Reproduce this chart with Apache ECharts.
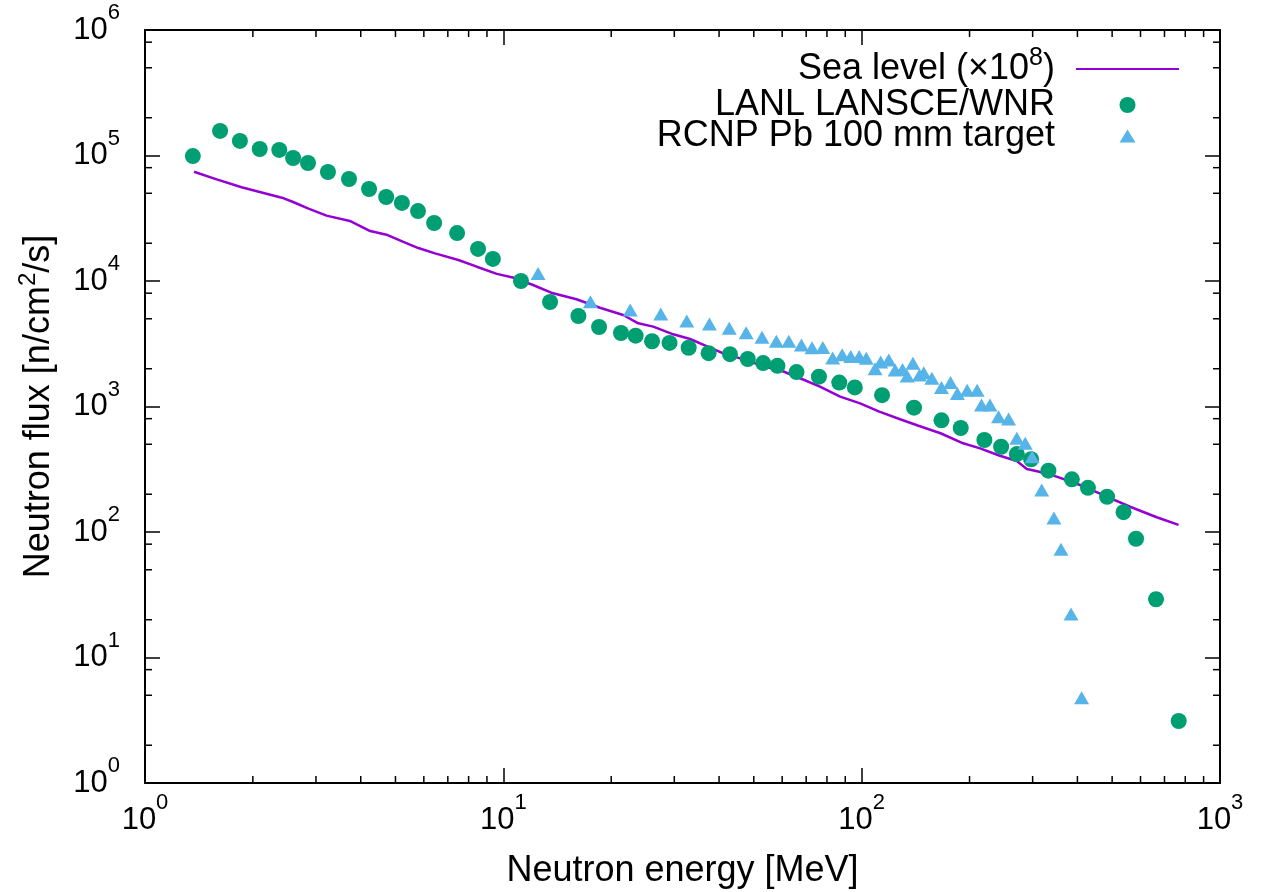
<!DOCTYPE html>
<html>
<head>
<meta charset="utf-8">
<script src="https://cdn.jsdelivr.net/npm/echarts@6/dist/echarts.min.js"></script>
<style>
  html, body { margin: 0; padding: 0; background: #fff; }
  #chart_flux { width: 1270px; height: 892px; }
</style>
</head>
<body>
<div id="chart_flux"></div>
<script>
// 数据
var seaEnergy = [1.37, 1.585, 1.86, 2.09, 2.41, 2.59, 2.86, 3.21, 3.73, 4.25, 4.72, 5.26, 5.79, 6.45, 7.49, 8.43, 9.59, 10.7, 12.1, 13.6, 16.0, 18.6, 21.6, 23.8, 26.2, 29.8, 33.2, 36.9, 41.1, 45.8, 53.2, 60.5, 67.3, 76.5, 87.1, 99.0, 112, 128, 144, 166, 192, 214, 243, 271, 289, 311, 350, 407, 483, 561, 666, 766];
var seaFlux = [74300, 64600, 55800, 51200, 46100, 42600, 37700, 33200, 30100, 25000, 23400, 20500, 18300, 16600, 14700, 13000, 11400, 10600, 9290, 8070, 7150, 6120, 5360, 4600, 4330, 3760, 3450, 3030, 2650, 2420, 2100, 1900, 1680, 1440, 1200, 1060, 910, 791, 703, 612, 509, 464, 405, 368, 318, 303, 276, 237, 191, 159, 131, 114];

var lanlEnergy = [1.36, 1.62, 1.84, 2.09, 2.37, 2.59, 2.85, 3.24, 3.71, 4.22, 4.71, 5.21, 5.78, 6.41, 7.43, 8.50, 9.35, 11.2, 13.5, 16.2, 18.5, 21.3, 23.4, 26.0, 29.1, 32.9, 37.4, 42.9, 48.1, 53.1, 58.2, 65.8, 76.0, 86.6, 95.7, 114, 140, 167, 189, 220, 245, 271, 297, 332, 386, 428, 484, 538, 583, 663, 767];
var lanlFlux = [99000, 157000, 130600, 112700, 110700, 95500, 87100, 73900, 65000, 54100, 46700, 41900, 36100, 29000, 24100, 18000, 15000, 10000, 6800, 5260, 4300, 3850, 3670, 3310, 3210, 2940, 2660, 2610, 2390, 2220, 2110, 1880, 1730, 1550, 1420, 1230, 979, 776, 674, 541, 478, 418, 380, 308, 263, 225, 191, 144, 88.4, 29.1, 3.12];

var rcnpEnergy = [12.5, 17.5, 22.6, 27.5, 32.5, 37.6, 42.7, 47.6, 52.7, 57.8, 62.6, 67.9, 72.7, 77.9, 83.0, 88.2, 93.2, 98.4, 103, 109, 113, 119, 124, 130, 134, 139, 145, 149, 157, 167, 177, 185, 197, 210, 216, 228, 241, 257, 271, 286, 299, 318, 344, 360, 384, 411];
var rcnpFlux = [11500, 6840, 5870, 5460, 4800, 4540, 4200, 3870, 3560, 3310, 3310, 3090, 2940, 2950, 2430, 2590, 2500, 2500, 2420, 2000, 2260, 2350, 1950, 1970, 1750, 2210, 1780, 1860, 1680, 1420, 1550, 1270, 1350, 1350, 1030, 1030, 830, 795, 558, 509, 398, 216, 129, 72.8, 22.2, 4.78];

// 坐标轴范围和次刻度
var xMin = 1, xMax = 1000;
var yMin = 1, yMax = 1e6;
var xMinorTicks = [2, 3, 4, 5, 6, 7, 8, 9, 20, 30, 40, 50, 60, 70, 80, 90, 200, 300, 400, 500, 600, 700, 800, 900];
var yMinorTicks = [2, 5, 8, 20, 50, 80, 200, 500, 800, 2000, 5000, 8000, 20000, 50000, 80000, 200000, 500000, 800000];

var seaName = 'Sea level (×10^8)';
var lanlName = 'LANL LANSCE/WNR';
var rcnpName = 'RCNP Pb 100 mm target';

var FONT = '"Liberation Sans", Arial, Helvetica, sans-serif';

function zip(xs, ys) {
    return xs.map(function (x, i) { return [x, ys[i]]; });
}

function powLabel(v) {
    var e = Math.round(Math.log(v) / Math.LN10);
    return '{b|10}{s|' + e + '}';
}

// 上标：用底部 padding 把小字抬高
var labelRich = {
    b: { fontFamily: FONT, fontSize: 31, lineHeight: 56, color: '#000' },
    s: { fontFamily: FONT, fontSize: 22, lineHeight: 22, padding: [0, 0, 34, 0], color: '#000' }
};

function tickLine(x1, y1, x2, y2) {
    return { type: 'line', shape: { x1: x1, y1: y1, x2: x2, y2: y2 }, style: { stroke: '#000', lineWidth: 1.5 } };
}

function renderMinorX(params, api) {
    var b = api.coord([api.value(0), yMin]);
    var t = api.coord([api.value(0), yMax]);
    return { type: 'group', children: [tickLine(b[0], b[1], b[0], b[1] - 7), tickLine(t[0], t[1], t[0], t[1] + 7)] };
}

function renderMinorY(params, api) {
    var l = api.coord([xMin, api.value(1)]);
    var r = api.coord([xMax, api.value(1)]);
    return { type: 'group', children: [tickLine(l[0], l[1], l[0] + 7, l[1]), tickLine(r[0], r[1], r[0] - 7, r[1])] };
}

var myChart = '';
var option = '';

window.onload = function () {
    myChart = echarts.init(document.getElementById('chart_flux'));

    var axisBase = {
        type: 'log',
        logBase: 10,
        axisLine: { onZero: false, lineStyle: { color: '#000', width: 2 } },
        axisTick: { inside: true, length: 15, lineStyle: { color: '#000', width: 1.5 } },
        splitLine: { show: false }
    };

    option = {
        backgroundColor: '#fff',
        animation: false,
        grid: { left: 145, right: 50, top: 30, bottom: 109, outerBoundsMode: 'none' },
        legend: {
            orient: 'vertical',
            right: 85,
            top: 41,
            align: 'right',
            itemWidth: 103,
            itemHeight: 16,
            itemGap: -5,
            selectedMode: false,
            data: [
                { name: seaName, itemStyle: { opacity: 0 } },
                { name: lanlName },
                { name: rcnpName, icon: 'path://M8,1.5 L16,14.5 L0,14.5 Z M8,0 L8.01,0 M8,16 L8.01,16' }
            ],
            formatter: function (name) {
                if (name === seaName) {
                    return '{n|Sea level (×10}{s|8}{n|)}';
                }
                return '{n|' + name + '}';
            },
            textStyle: {
                fontFamily: FONT,
                fontSize: 36,
                color: '#000',
                padding: [0, 16, 0, 0],
                rich: {
                    n: { fontFamily: FONT, fontSize: 36, lineHeight: 54, color: '#000' },
                    s: { fontFamily: FONT, fontSize: 25, lineHeight: 25, padding: [0, 0, 21, 0], color: '#000' }
                }
            }
        },
        xAxis: [
            Object.assign({}, axisBase, {
                position: 'bottom',
                min: xMin, max: xMax,
                name: 'Neutron energy [MeV]',
                nameLocation: 'middle',
                nameGap: 67,
                nameTextStyle: { fontFamily: FONT, fontSize: 36, color: '#000' },
                axisLabel: { margin: 9, formatter: powLabel, rich: labelRich }
            }),
            Object.assign({}, axisBase, {
                position: 'top',
                min: xMin, max: xMax,
                axisLabel: { show: false }
            })
        ],
        yAxis: [
            Object.assign({}, axisBase, {
                position: 'left',
                min: yMin, max: yMax,
                name: '{n|Neutron flux [n/cm}{s|2}{n|/s]}',
                nameLocation: 'middle',
                nameGap: 74,
                nameRotate: 90,
                nameTextStyle: {
                    fontFamily: FONT, fontSize: 36, color: '#000',
                    rich: {
                        n: { fontFamily: FONT, fontSize: 36, lineHeight: 54, color: '#000' },
                        s: { fontFamily: FONT, fontSize: 24, lineHeight: 24, padding: [0, 0, 22, 0], color: '#000' }
                    }
                },
                axisLabel: { margin: 25, formatter: powLabel, rich: labelRich }
            }),
            Object.assign({}, axisBase, {
                position: 'right',
                min: yMin, max: yMax,
                axisLabel: { show: false }
            })
        ],
        series: [
            {
                name: seaName,
                type: 'line',
                data: zip(seaEnergy, seaFlux),
                symbol: 'none',
                lineStyle: { color: '#9400d3', width: 2.5 },
                itemStyle: { color: '#9400d3' },
                z: 2
            },
            {
                name: lanlName,
                type: 'scatter',
                data: zip(lanlEnergy, lanlFlux),
                symbol: 'circle',
                symbolSize: 16,
                itemStyle: { color: '#009e73', opacity: 1 },
                z: 3
            },
            {
                name: rcnpName,
                type: 'scatter',
                data: zip(rcnpEnergy, rcnpFlux),
                symbol: 'triangle',
                symbolSize: [15, 13],
                itemStyle: { color: '#56b4e9', opacity: 1 },
                z: 4
            },
            {
                type: 'custom',
                silent: true,
                renderItem: renderMinorX,
                data: xMinorTicks.map(function (v) { return [v, yMin]; }),
                z: 5
            },
            {
                type: 'custom',
                silent: true,
                renderItem: renderMinorY,
                data: yMinorTicks.map(function (v) { return [xMin, v]; }),
                z: 5
            }
        ]
    };

    myChart.setOption(option);
};
</script>
</body>
</html>
